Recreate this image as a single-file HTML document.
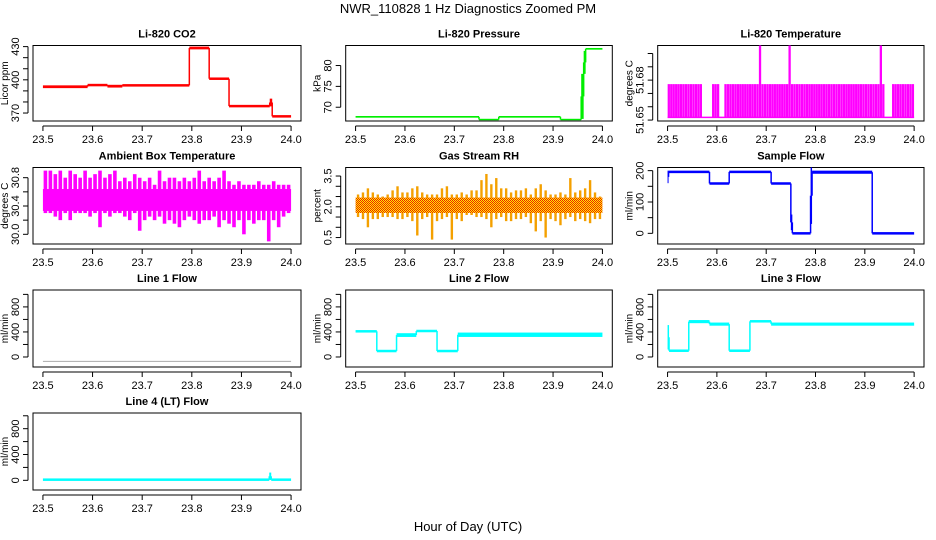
<!DOCTYPE html>
<html><head><meta charset="utf-8">
<style>
body{margin:0;background:#fff;}
svg{display:block;font-family:"Liberation Sans",Arial,sans-serif;}
</style></head>
<body>
<svg id="chart" width="936" height="540" viewBox="0 0 936 540">
<defs>
<pattern id="rhpat" width="2" height="2" patternUnits="userSpaceOnUse">
<rect width="2" height="2" fill="#ffee00"/><rect width="1" height="1" fill="#ee2000"/><rect x="1" y="1" width="1" height="1" fill="#ee2000"/>
</pattern>
</defs>
<text x="468" y="13" text-anchor="middle" font-size="13">NWR_110828  1 Hz Diagnostics Zoomed PM</text>
<text x="468" y="531" text-anchor="middle" font-size="13">Hour of Day (UTC)</text>
</svg>
<script>
// ---- data ----
const xTicks = [23.5,23.6,23.7,23.8,23.9,24.0];
const xTickLabels = ["23.5","23.6","23.7","23.8","23.9","24.0"];

const co2Start = [23.5,23.59,23.63,23.66,23.795,23.835,23.875,23.957,23.962];
const co2End   = [23.59,23.63,23.66,23.795,23.835,23.875,23.957,23.962,24.0];
const co2Lo    = [392.5,394.5,393,394,427.5,400,375.5,376,366];
const co2Hi    = [395,396,395.5,396,430,402,377,383,368];

const presStart = [23.5,23.75,23.79,23.915,23.957,23.962,23.966];
const presEnd   = [23.75,23.79,23.915,23.957,23.962,23.966,24.0];
const presLo    = [67.5,66.9,67.5,66.9,67.2,78,83.8];
const presHi    = [67.9,67.2,67.9,67.2,78,83.5,84.2];

const liTempBase = 51.652;
const liTempMax = [51.677,51.677,51.677,51.677,51.677,51.677,51.677,51.677,51.677,51.677,
 51.677,51.677,51.677,51.677,51.652,51.652,51.652,51.652,51.677,51.677,
 51.677,51.652,51.652,51.677,51.677,51.677,51.677,51.677,51.677,51.677,
 51.677,51.677,51.677,51.677,51.677,51.677,51.677,51.706,51.677,51.677,
 51.677,51.677,51.677,51.677,51.677,51.677,51.677,51.677,51.677,51.706,
 51.677,51.677,51.677,51.677,51.677,51.677,51.677,51.677,51.677,51.677,
 51.677,51.677,51.677,51.677,51.677,51.677,51.677,51.677,51.677,51.677,
 51.677,51.677,51.677,51.677,51.677,51.677,51.677,51.677,51.677,51.677,
 51.677,51.677,51.677,51.677,51.677,51.677,51.706,51.677,51.652,51.652,
 51.652,51.677,51.677,51.677,51.677,51.677,51.677,51.677,51.677,51.677];

const ambCore = [30.33,30.64];
const ambMax = [30.9,30.9,30.85,30.9,30.8,30.9,30.85,30.8,30.9,30.8,30.85,30.9,30.8,30.85,30.9,30.75,30.8,30.75,30.85,30.8,30.75,30.8,30.7,30.9,30.75,30.8,30.8,30.75,30.8,30.75,30.8,30.9,30.75,30.8,30.75,30.8,30.9,30.75,30.7,30.75,30.7,30.7,30.7,30.75,30.7,30.7,30.75,30.7,30.7,30.7];
const ambMin = [30.3,30.3,30.25,30.2,30.3,30.2,30.3,30.3,30.3,30.25,30.3,30.1,30.3,30.25,30.3,30.3,30.25,30.2,30.3,30.05,30.2,30.25,30.2,30.25,30.15,30.2,30.15,30.1,30.2,30.25,30.2,30.15,30.2,30.2,30.25,30.1,30.2,30.15,30.1,30.2,30.0,30.2,30.15,30.2,30.2,29.9,30.2,30.1,30.25,30.3];

const rhCore = [1.7,2.45];
const rhMax = [2.6,2.7,2.9,2.7,2.6,2.5,2.6,2.8,3.0,2.7,2.7,2.9,3.0,2.7,2.6,2.6,2.6,2.9,3.0,2.6,2.6,2.7,2.6,2.8,2.8,3.3,3.6,3.1,3.4,2.9,2.9,2.7,2.8,2.8,2.9,2.6,2.9,3.1,2.8,2.6,2.6,2.7,2.6,3.4,2.7,2.8,2.9,3.3,2.7,2.5];
const rhMin = [1.5,1.4,1.0,1.4,1.4,1.5,1.5,1.5,1.4,1.4,1.5,1.3,0.6,1.4,1.5,0.4,1.3,1.4,1.5,0.4,1.4,1.3,1.6,1.6,1.5,1.5,1.4,1.0,1.4,1.5,1.3,1.3,1.4,1.4,1.5,1.2,0.8,1.3,0.5,1.4,1.3,1.1,1.4,1.5,1.3,1.4,1.3,1.2,1.4,1.4];

const sfStart = [23.5,23.502,23.585,23.625,23.71,23.75,23.753,23.79,23.793,23.915];
const sfEnd   = [23.502,23.585,23.625,23.71,23.75,23.753,23.79,23.793,23.915,24.0];
const sfLo    = [160,192,155,192,155,10,-3,30,190,-3];
const sfHi    = [200,200,163,200,163,60,3,210,200,3];

const l1Start = [23.5]; const l1End = [24.0]; const l1Lo = [-72]; const l1Hi = [-68];

const l2Start = [23.5,23.543,23.583,23.623,23.665,23.707];
const l2End   = [23.543,23.583,23.623,23.665,23.707,24.0];
const l2Lo    = [390,85,320,400,85,320];
const l2Hi    = [430,105,380,430,105,390];

const l3Start = [23.5,23.503,23.543,23.585,23.625,23.667,23.71];
const l3End   = [23.503,23.543,23.585,23.625,23.667,23.71,24.0];
const l3Lo    = [120,90,540,500,90,550,500];
const l3Hi    = [510,110,590,550,110,590,550];

const l4Start = [23.5,23.956,23.96];
const l4End   = [23.956,23.96,24.0];
const l4Lo    = [5,5,5];
const l4Hi    = [15,120,15];

const flowTicks = [0,200,400,600,800,1000];
const flowLabels = ["0","","400","","800",""];

// ---- drawing ----
const svg = document.getElementById('chart');
const NS = 'http://www.w3.org/2000/svg';
function mk(tag, attrs, parent){
  const e = document.createElementNS(NS, tag);
  for (const k in attrs) e.setAttribute(k, attrs[k]);
  (parent||svg).appendChild(e);
  return e;
}
const cols = [[33,301],[345.7,612.3],[657.7,924]];
const rows = [[45.5,121],[167.5,244],[290,367],[413,490]];

function panel(opt){
  const [L,R] = cols[opt.c], [T,B] = rows[opt.r];
  const g = mk('g',{});
  
  
  const xs = v => L + (R-L)*((v-23.48)/0.54);
  const ys = v => B - (B-T)*((v-opt.ylim[0])/(opt.ylim[1]-opt.ylim[0]));
  const box = mk('rect',{x:L,y:T,width:R-L,height:B-T,fill:'none',stroke:'#000','stroke-width':1},g);
  
  
  const t = mk('text',{x:(L+R)/2,y:T-8,'text-anchor':'middle','font-size':11,'font-weight':'bold'},g);
  t.textContent = opt.title;
  
  
  mk('line',{x1:xs(xTicks[0]),x2:xs(xTicks[xTicks.length-1]),y1:B+5,y2:B+5,stroke:'#000'},g);
  xTicks.forEach((v,i)=>{
    mk('line',{x1:xs(v),x2:xs(v),y1:B+5,y2:B+10,stroke:'#000'},g);
    const tl = mk('text',{x:xs(v),y:B+22,'text-anchor':'middle','font-size':11},g);
    tl.textContent = xTickLabels[i];
    
    
  });
  const yt = opt.yticks;
  mk('line',{x1:L-5,x2:L-5,y1:ys(yt[0]),y2:ys(yt[yt.length-1]),stroke:'#000'},g);
  yt.forEach((v,i)=>{
    mk('line',{x1:L-10,x2:L-5,y1:ys(v),y2:ys(v),stroke:'#000'},g);
    if (opt.ylabels[i]) {
      const yl = mk('text',{x:L-14,y:ys(v),'text-anchor':'middle','font-size':11,transform:`rotate(-90 ${L-14} ${ys(v)})`},g);
      yl.textContent = opt.ylabels[i];
      
      
    }
  });
  const at = mk('text',{x:L-25,y:(T+B)/2,'text-anchor':'middle','font-size':10,transform:`rotate(-90 ${L-25} ${(T+B)/2})`},g);
  at.textContent = opt.ytitle;
  
  
  return {g,xs,ys};
}

function steps(p, st, en, lo, hi, color, minH, name){
  for (let i=0;i<st.length;i++){
    const x1 = p.xs(st[i]), x2 = p.xs(en[i]);
    let y1 = p.ys(hi[i]), y2 = p.ys(lo[i]);
    if (y2-y1 < minH){ const m=(y1+y2)/2; y1=m-minH/2; y2=m+minH/2; }
    const r = mk('rect',{x:x1,y:y1,width:Math.max(1,x2-x1),height:y2-y1,fill:color},p.g);
    
    
    if (i>0){
      const a = (lo[i-1]+hi[i-1])/2, b = (lo[i]+hi[i])/2;
      const c = mk('line',{x1:x1,x2:x1,y1:p.ys(a),y2:p.ys(b),stroke:color,'stroke-width':1.5},p.g);
      
      
    }
  }
}

function bins(p, mins, maxs, color, w, name){
  const n = maxs.length, dx = 0.5/n;
  for (let i=0;i<n;i++){
    const x = p.xs(23.5 + dx*(i+0.5));
    const lo = Array.isArray(mins) ? mins[i] : mins;
    const l = mk('line',{x1:x,x2:x,y1:p.ys(lo),y2:p.ys(maxs[i]),stroke:color,'stroke-width':w},p.g);
    
    
  }
}

let p = panel({c:0,r:0,name:'co2',title:'Li-820 CO2',ytitle:'Licor ppm',ylim:[362.8,431],yticks:[370,380,390,400,410,420,430],ylabels:['370','','','400','','','430']});
steps(p,co2Start,co2End,co2Lo,co2Hi,'#ff0000',2.5,'co2');
p = panel({c:1,r:0,name:'pressure',title:'Li-820 Pressure',ytitle:'kPa',ylim:[66.7,84.8],yticks:[70,75,80],ylabels:['70','75','80']});
steps(p,presStart,presEnd,presLo,presHi,'#00ee00',1.5,'pressure');
p = panel({c:2,r:0,name:'li-temp',title:'Li-820 Temperature',ytitle:'degrees C',ylim:[51.6493,51.706],yticks:[51.65,51.66,51.67,51.68,51.69,51.70],ylabels:['51.65','','','51.68','','']});
mk('line',{x1:p.xs(23.5),x2:p.xs(24.0),y1:p.ys(liTempBase),y2:p.ys(liTempBase),stroke:'#ff00ff','stroke-width':1.5},p.g);
bins(p,liTempBase,liTempMax,'#ff00ff',2.3,'li-temp');
p = panel({c:0,r:1,name:'ambient-temp',title:'Ambient Box Temperature',ytitle:'degrees C',ylim:[29.863,30.944],yticks:[30.0,30.2,30.4,30.6,30.8],ylabels:['30.0','','30.4','','30.8']});
mk('rect',{x:p.xs(23.5),y:p.ys(ambCore[1]),width:p.xs(24.0)-p.xs(23.5),height:p.ys(ambCore[0])-p.ys(ambCore[1]),fill:'#ff00ff'},p.g);
bins(p,ambMin,ambMax,'#ff00ff',3.6,'ambient-temp');
p = panel({c:1,r:1,name:'gas-rh',title:'Gas Stream RH',ytitle:'percent',ylim:[0.185,3.916],yticks:[0.5,1.0,1.5,2.0,2.5,3.0,3.5],ylabels:['0.5','','','2.0','','','3.5']});
bins(p,rhMin,rhMax,'#f4a000',2.4,'gas-rh');
mk('rect',{x:p.xs(23.5),y:p.ys(rhCore[1]),width:p.xs(24.0)-p.xs(23.5),height:p.ys(rhCore[0])-p.ys(rhCore[1]),fill:'url(#rhpat)'},p.g);
p = panel({c:2,r:1,name:'sample-flow',title:'Sample Flow',ytitle:'ml/min',ylim:[-34,210],yticks:[0,50,100,150,200],ylabels:['0','','100','','200']});
steps(p,sfStart,sfEnd,sfLo,sfHi,'#0000ff',2.5,'sample-flow');
p = panel({c:0,r:2,name:'line1-flow',title:'Line 1 Flow',ytitle:'ml/min',ylim:[-160,1070],yticks:flowTicks,ylabels:flowLabels});
steps(p,l1Start,l1End,l1Lo,l1Hi,'#aaaaaa',1,'line1-flow');
p = panel({c:1,r:2,name:'line2-flow',title:'Line 2 Flow',ytitle:'ml/min',ylim:[-160,1070],yticks:flowTicks,ylabels:flowLabels});
steps(p,l2Start,l2End,l2Lo,l2Hi,'#00ffff',2.5,'line2-flow');
p = panel({c:2,r:2,name:'line3-flow',title:'Line 3 Flow',ytitle:'ml/min',ylim:[-160,1070],yticks:flowTicks,ylabels:flowLabels});
steps(p,l3Start,l3End,l3Lo,l3Hi,'#00ffff',2.5,'line3-flow');
p = panel({c:0,r:3,name:'line4-flow',title:'Line 4 (LT) Flow',ytitle:'ml/min',ylim:[-150,1043],yticks:flowTicks,ylabels:flowLabels});
steps(p,l4Start,l4End,l4Lo,l4Hi,'#00ffff',2.5,'line4-flow');
</script>
</body></html>
